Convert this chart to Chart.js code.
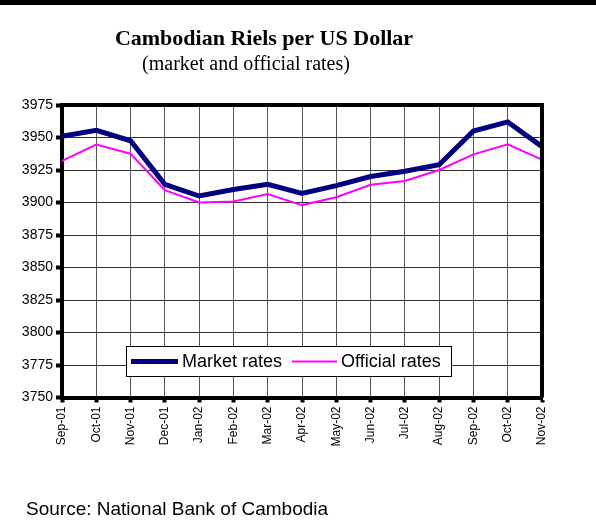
<!DOCTYPE html>
<html>
<head>
<meta charset="utf-8">
<title>Cambodian Riels per US Dollar</title>
<script src="https://cdn.jsdelivr.net/npm/chart.js@4.4.1/dist/chart.umd.min.js"></script>
<style>
    body{margin:0;background:#fff;}
    #rateChart{display:block;}
</style>
</head>
<body>
<canvas id="rateChart" width="596" height="530"></canvas>
<script>
// chart data
const monthLabels=['Sep-01','Oct-01','Nov-01','Dec-01','Jan-02','Feb-02','Mar-02','Apr-02','May-02','Jun-02','Jul-02','Aug-02','Sep-02','Oct-02','Nov-02'];
const marketRates=[3951,3955.5,3947.5,3914,3905,3910,3914,3907,3913,3920,3924,3929,3955,3962,3943];
const officialRates=[3932,3944.5,3937.5,3909.5,3900,3900.8,3906.5,3898,3904,3913.7,3916.5,3925,3937,3944.8,3933];
const yTickValues=[3750,3775,3800,3825,3850,3875,3900,3925,3950,3975];

const chartTitle='Cambodian Riels per US Dollar';
const chartSubTitle='(market and official rates)';
const sourceText='Source: National Bank of Cambodia';

// draws the heading, the frame, the legend box and the source line
const pagePlugin={
    id:'pagePlugin',
    afterDraw:(chart)=>{
        const ctx=chart.ctx;
        const area=chart.chartArea;
        ctx.save();

        // thick rule on top of page
        ctx.fillStyle='#000';
        ctx.fillRect(0,0,596,5);

        // titles
        ctx.fillStyle='#000';
        ctx.textBaseline='alphabetic';
        ctx.textAlign='center';
        ctx.font='bold 22px "Liberation Serif"';
        ctx.fillText(chartTitle,264,45);
        ctx.font='20px "Liberation Serif"';
        ctx.fillText(chartSubTitle,246,70);

        // top and right border of plot
        ctx.strokeStyle='#000';
        ctx.lineWidth=4;
        ctx.beginPath();
        ctx.moveTo(area.left,area.top);
        ctx.lineTo(area.right,area.top);
        ctx.lineTo(area.right,area.bottom);
        ctx.stroke();

        // legend box
        let boxLeft=126,boxTop=346,boxRight=451,boxBottom=376;
        ctx.fillStyle='#fff';
        ctx.fillRect(boxLeft,boxTop,boxRight-boxLeft,boxBottom-boxTop);
        ctx.lineWidth=1;
        ctx.strokeStyle='#000';
        ctx.strokeRect(boxLeft+0.5,boxTop+0.5,boxRight-boxLeft,boxBottom-boxTop);

        const legendItems=[
            {x1:131,x2:178,textX:182},
            {x1:292,x2:337,textX:341}
        ];
        let midY=(boxTop+boxBottom)/2+0.5;
        ctx.font='18px "Liberation Sans"';
        ctx.textAlign='left';
        ctx.textBaseline='middle';
        chart.data.datasets.forEach((ds,i)=>{
            let item=legendItems[i];
            ctx.strokeStyle=ds.borderColor;
            ctx.lineWidth=ds.borderWidth;
            ctx.beginPath();
            ctx.moveTo(item.x1,midY);
            ctx.lineTo(item.x2,midY);
            ctx.stroke();
            ctx.fillStyle='#000';
            ctx.fillText(ds.label,item.textX,midY+1);
        })

        // source note
        ctx.font='19px "Liberation Sans"';
        ctx.textBaseline='alphabetic';
        ctx.fillText(sourceText,26,515);

        ctx.restore();
    }
}

let rateChart=new Chart(document.getElementById('rateChart').getContext('2d'),{
    type:'line',
    data:{
        labels:monthLabels,
        datasets:[
            {
                label:'Market rates',
                data:marketRates,
                borderColor:'#000080',
                backgroundColor:'#000080',
                borderWidth:5,
                pointRadius:0,
                tension:0
            },
            {
                label:'Official rates',
                data:officialRates,
                borderColor:'#ff00ff',
                backgroundColor:'#ff00ff',
                borderWidth:2,
                pointRadius:0,
                tension:0
            }
        ]
    },
    options:{
        responsive:false,
        animation:false,
        devicePixelRatio:1,
        layout:{
            padding:{top:105,right:54,left:0,bottom:0}
        },
        plugins:{
            legend:{display:false},
            title:{display:false},
            tooltip:{enabled:false}
        },
        scales:{
            x:{
                offset:false,
                grid:{
                    offset:false,
                    color:'#555',
                    lineWidth:1,
                    drawTicks:true,
                    tickLength:5,
                    tickWidth:4,
                    tickColor:'#000'
                },
                border:{display:true,color:'#000',width:4},
                ticks:{
                    color:'#000',
                    font:{family:'Liberation Sans',size:12},
                    minRotation:90,
                    maxRotation:90,
                    autoSkip:false,
                    padding:4
                },
                afterFit:(scale)=>{
                    scale.height=132.5;
                }
            },
            y:{
                min:3750,
                max:3975,
                afterBuildTicks:(scale)=>{
                    scale.ticks=yTickValues.map(v=>({value:v}));
                },
                grid:{
                    color:'#333',
                    lineWidth:1,
                    drawTicks:true,
                    tickLength:6,
                    tickWidth:4,
                    tickColor:'#000'
                },
                border:{display:true,color:'#000',width:4},
                ticks:{
                    color:'#000',
                    font:{family:'Liberation Sans',size:14},
                    padding:3,
                    callback:(value)=>String(value)
                },
                afterFit:(scale)=>{
                    scale.width=62;
                }
            }
        }
    },
    plugins:[pagePlugin]
})
</script>
</body>
</html>
